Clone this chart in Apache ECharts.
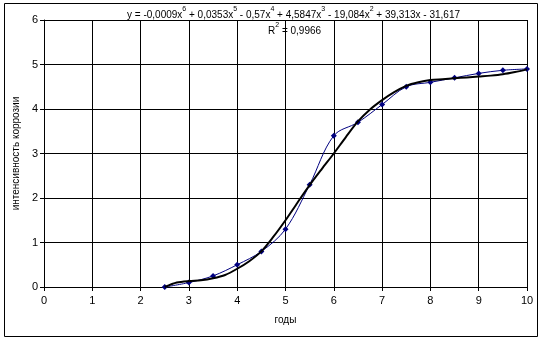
<!DOCTYPE html>
<html>
<head>
<meta charset="utf-8">
<script src="https://cdn.jsdelivr.net/npm/echarts@6/dist/echarts.min.js"></script>
<style>
  html, body { margin: 0; padding: 0; background: #fff; }
  #chart { width: 543px; height: 340px; }
</style>
</head>
<body>
<div id="chart"></div>
<script>
// измеренные точки
var years = [2.5, 3, 3.5, 4, 4.5, 5, 5.5, 6, 6.5, 7, 7.5, 8, 8.5, 9, 9.5, 10];
var corrosion = [0, 0.1, 0.25, 0.5, 0.8, 1.3, 2.3, 3.4, 3.7, 4.1, 4.5, 4.6, 4.7, 4.8, 4.87, 4.9];

// линия тренда
var trendX = [2.5, 2.75, 3, 3.25, 3.5, 3.75, 4, 4.25, 4.5, 4.75, 5, 5.25, 5.5, 5.75, 6, 6.25,
              6.5, 6.75, 7, 7.25, 7.5, 7.75, 8, 8.25, 8.5, 8.75, 9, 9.25, 9.5, 9.75, 10];
var trendY = [0, 0.1, 0.135, 0.15, 0.195, 0.27, 0.41, 0.58, 0.8, 1.13, 1.5, 1.9, 2.29, 2.65, 3.0, 3.37,
              3.72, 3.99, 4.2, 4.38, 4.52, 4.6, 4.65, 4.67, 4.69, 4.71, 4.73, 4.75, 4.78, 4.83, 4.89];

var xTicks = [0, 1, 2, 3, 4, 5, 6, 7, 8, 9, 10];
var yTicks = [0, 1, 2, 3, 4, 5, 6];

function pairs(xs, ys) {
    return xs.map(function (x, i) { return [x, ys[i]]; });
}

var font = 'Liberation Sans, Arial, sans-serif';
var myChart = echarts.init(document.getElementById('chart'));

var options = {
    animation: false,
    grid: {
        left: 44,
        right: 16,
        top: 20,
        bottom: 53
    },
    graphic: [
        {
            type: 'rect',
            shape: { x: 4.5, y: 3.5, width: 533, height: 333 },
            style: { fill: 'none', stroke: '#000', lineWidth: 1 },
            silent: true
        },
        {
            type: 'text',
            left: 127,
            top: 6,
            style: {
                text: '{t|y = -0,0009x}{s|6}{t| + 0,0353x}{s|5}{t| - 0,57x}{s|4}{t| + 4,5847x}{s|3}{t| - 19,084x}{s|2}{t| + 39,313x - 31,617}',
                rich: {
                    t: { fontFamily: font, fontSize: 10, fill: '#000', verticalAlign: 'bottom', lineHeight: 14 },
                    s: { fontFamily: font, fontSize: 7, fill: '#000', verticalAlign: 'top', lineHeight: 14, padding: [0, 0, 6, 0] }
                }
            }
        },
        {
            type: 'text',
            left: 268,
            top: 22,
            style: {
                text: '{t|R}{s|2}{t| = 0,9966}',
                rich: {
                    t: { fontFamily: font, fontSize: 10, fill: '#000', verticalAlign: 'bottom', lineHeight: 14 },
                    s: { fontFamily: font, fontSize: 7, fill: '#000', verticalAlign: 'top', lineHeight: 14, padding: [0, 0, 6, 0] }
                }
            }
        }
    ],
    xAxis: {
        type: 'value',
        min: xTicks[0],
        max: xTicks[xTicks.length - 1],
        interval: 1,
        name: 'годы',
        nameLocation: 'middle',
        nameGap: 28,
        nameTextStyle: { fontFamily: font, fontSize: 10, color: '#000' },
        axisLine: { show: true, onZero: false, lineStyle: { color: '#000', width: 1 } },
        axisTick: { show: true, length: 4, lineStyle: { color: '#000' } },
        axisLabel: { fontFamily: font, fontSize: 11, color: '#000', margin: 8 },
        splitLine: { show: true, lineStyle: { color: '#000', width: 1 } }
    },
    yAxis: {
        type: 'value',
        min: yTicks[0],
        max: yTicks[yTicks.length - 1],
        interval: 1,
        name: 'интенсивность коррозии',
        nameLocation: 'middle',
        nameGap: 17,
        nameTextStyle: { fontFamily: font, fontSize: 10, color: '#000' },
        axisLine: { show: true, lineStyle: { color: '#000', width: 1 } },
        axisTick: { show: true, length: 4, lineStyle: { color: '#000' } },
        axisLabel: { fontFamily: font, fontSize: 11, color: '#000', margin: 6 },
        splitLine: { show: true, lineStyle: { color: '#000', width: 1 } }
    },
    series: [
        {
            name: 'данные',
            type: 'line',
            smooth: 0.35,
            data: pairs(years, corrosion),
            symbol: 'diamond',
            symbolSize: 6,
            itemStyle: { color: '#000080' },
            lineStyle: { color: '#000080', width: 1 },
            z: 3
        },
        {
            name: 'тренд',
            type: 'line',
            smooth: 0.3,
            data: pairs(trendX, trendY),
            showSymbol: false,
            symbol: 'none',
            lineStyle: { color: '#000', width: 2 },
            z: 4
        }
    ]
};

myChart.setOption(options);
window.addEventListener('resize', function () {
    myChart.resize();
});
</script>
</body>
</html>
